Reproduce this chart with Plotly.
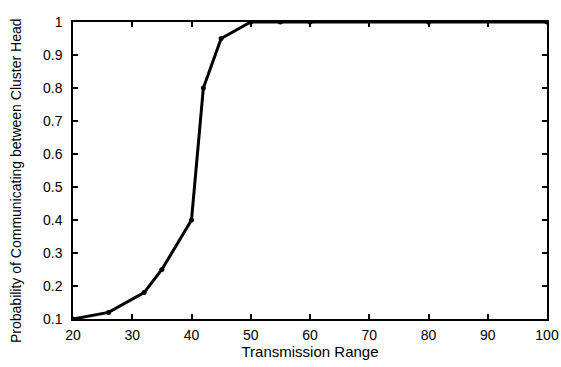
import plotly.graph_objects as go

x_range = [20, 26, 32, 35, 40, 42, 45, 50, 55, 60, 80, 100]
prob = [0.10, 0.12, 0.18, 0.25, 0.40, 0.80, 0.95, 1.0, 1.0, 1.0, 1.0, 1.0]
x_ticks = [20, 30, 40, 50, 60, 70, 80, 90, 100]
y_ticks = [0.1, 0.2, 0.3, 0.4, 0.5, 0.6, 0.7, 0.8, 0.9, 1]
y_ticktext = ["0.1", "0.2", "0.3", "0.4", "0.5", "0.6", "0.7", "0.8", "0.9", "1"]

FONT = "Liberation Sans, Arial, sans-serif"
W, H = 561, 367
L, R, T, B = 73, 14, 22, 48

fig = go.Figure()
fig.add_trace(go.Scatter(
    x=x_range, y=prob, mode="lines+markers",
    line=dict(color="black", width=3),
    marker=dict(color="black", size=5, symbol="circle"),
    showlegend=False,
))

axis_common = dict(
    showline=True, linecolor="black", linewidth=1.5, mirror="ticks",
    ticks="inside", ticklen=5, tickwidth=1.5, tickcolor="black",
    showgrid=False, zeroline=False, automargin=False,
    tickfont=dict(family=FONT, size=14, color="black"),
)

plot_w = W - L - R
plot_h = H - T - B

fig.update_layout(
    width=W, height=H,
    margin=dict(l=L, r=R, t=T, b=B, autoexpand=False),
    paper_bgcolor="white", plot_bgcolor="white",
    font=dict(family=FONT, size=14, color="black"),
    xaxis=dict(range=[20, 100], tickvals=x_ticks, ticklabelstandoff=2,
               title=dict(text="Transmission Range", standoff=2, font=dict(size=15)), **axis_common),
    yaxis=dict(range=[0.1, 1], tickvals=y_ticks, ticktext=y_ticktext, ticklabelstandoff=6, **axis_common),
    annotations=[dict(
        text="Probability of Communicating between Cluster Head",
        x=(16 - L) / plot_w, y=(H - B - 181) / plot_h,
        xref="paper", yref="paper", xanchor="center", yanchor="middle",
        showarrow=False, textangle=-90,
        font=dict(family=FONT, size=14, color="black"),
    )],
)

fig.write_html("out.html")
